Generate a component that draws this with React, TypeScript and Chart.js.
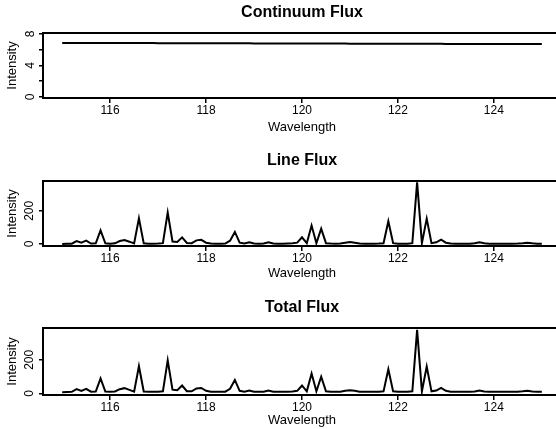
import React, { useEffect, useRef } from 'react';
import { Chart, registerables } from 'chart.js';

Chart.register(...registerables);

// ---- data ----
const wavelengths = [
  115.0, 115.1, 115.2, 115.3, 115.4, 115.5, 115.6, 115.7, 115.8, 115.9,
  116.0, 116.1, 116.2, 116.3, 116.4, 116.5, 116.6, 116.7, 116.8, 116.9,
  117.0, 117.1, 117.2, 117.3, 117.4, 117.5, 117.6, 117.7, 117.8, 117.9,
  118.0, 118.1, 118.2, 118.3, 118.4, 118.5, 118.6, 118.7, 118.8, 118.9,
  119.0, 119.1, 119.2, 119.3, 119.4, 119.5, 119.6, 119.7, 119.8, 119.9,
  120.0, 120.1, 120.2, 120.3, 120.4, 120.5, 120.6, 120.7, 120.8, 120.9,
  121.0, 121.1, 121.2, 121.3, 121.4, 121.5, 121.6, 121.7, 121.8, 121.9,
  122.0, 122.1, 122.2, 122.3, 122.4, 122.5, 122.6, 122.7, 122.8, 122.9,
  123.0, 123.1, 123.2, 123.3, 123.4, 123.5, 123.6, 123.7, 123.8, 123.9,
  124.0, 124.1, 124.2, 124.3, 124.4, 124.5, 124.6, 124.7, 124.8, 124.9,
  125.0,
];

const continuumFlux = [
  6.85, 6.85, 6.85, 6.85, 6.85, 6.85, 6.85, 6.85, 6.85, 6.85,
  6.85, 6.85, 6.85, 6.85, 6.85, 6.85, 6.85, 6.85, 6.85, 6.85,
  6.82, 6.82, 6.82, 6.82, 6.82, 6.82, 6.82, 6.82, 6.82, 6.82,
  6.82, 6.82, 6.82, 6.82, 6.82, 6.82, 6.82, 6.82, 6.82, 6.82,
  6.79, 6.79, 6.79, 6.79, 6.79, 6.79, 6.79, 6.79, 6.79, 6.79,
  6.79, 6.79, 6.79, 6.79, 6.79, 6.79, 6.79, 6.79, 6.79, 6.79,
  6.76, 6.76, 6.76, 6.76, 6.76, 6.76, 6.76, 6.76, 6.76, 6.76,
  6.76, 6.76, 6.76, 6.76, 6.76, 6.76, 6.76, 6.76, 6.76, 6.76,
  6.73, 6.73, 6.73, 6.73, 6.73, 6.73, 6.73, 6.73, 6.73, 6.73,
  6.73, 6.73, 6.73, 6.73, 6.73, 6.73, 6.73, 6.73, 6.73, 6.73,
  6.73,
];

const lineFlux = [
  0, 1, 2, 18, 8, 20, 3, 4, 82, 4,
  2, 4, 18, 24, 14, 3, 155, 4, 2, 2,
  3, 5, 190, 15, 12, 40, 6, 5, 22, 25,
  8, 3, 2, 2, 3, 20, 73, 8, 3, 10,
  3, 2, 3, 10, 3, 2, 2, 3, 4, 8,
  40, 5, 111, 5, 93, 5, 3, 2, 3, 8,
  12, 8, 3, 2, 2, 2, 3, 5, 137, 5,
  2, 2, 2, 5, 372, 5, 153, 5, 10, 26,
  8, 3, 2, 2, 2, 2, 4, 10, 4, 2,
  2, 2, 2, 2, 2, 3, 5, 8, 4, 2,
  2,
];

// total flux = line flux + continuum flux
const totalFlux = lineFlux.map((v, i) => v + continuumFlux[i]);

const xTicks = [116, 118, 120, 122, 124];
const continuumYTicks = [0, 2, 4, 6, 8];
const continuumYLabels = ['0', '', '4', '', '8'];
const fluxYTicks = [0, 100, 200, 300];
const fluxYLabels = ['0', '', '200', ''];

const FONT = "'Liberation Sans', Arial, Helvetica, sans-serif";

type PanelSpec = {
  title: string;
  values: number[];
  top: number;
  height: number;
  axisHeight: number;
  yMin: number;
  yMax: number;
  yTicks: number[];
  yLabels: string[];
  yTickPad: number;
  xTitlePad: number;
};

const panels: PanelSpec[] = [
  {
    title: 'Continuum Flux', values: continuumFlux, top: 0, height: 143, axisHeight: 45,
    yMin: -0.13, yMax: 8.13, yTicks: continuumYTicks, yLabels: continuumYLabels, yTickPad: 4.7, xTitlePad: 8.2,
  },
  {
    title: 'Line Flux', values: lineFlux, top: 148, height: 143, axisHeight: 45,
    yMin: -12, yMax: 380, yTicks: fluxYTicks, yLabels: fluxYLabels, yTickPad: -1, xTitlePad: 10.2,
  },
  {
    title: 'Total Flux', values: totalFlux, top: 295, height: 143, axisHeight: 43,
    yMin: -10, yMax: 390, yTicks: fluxYTicks, yLabels: fluxYLabels, yTickPad: -1, xTitlePad: 10.2,
  },
];

const boxPlugin = {
  id: 'rBox',
  afterDatasetsDraw(chart: any) {
    const { ctx, chartArea: a } = chart;
    ctx.save();
    ctx.strokeStyle = '#000';
    ctx.lineWidth = 2;
    ctx.strokeRect(a.left, a.top, a.right - a.left, a.bottom - a.top);
    ctx.restore();
  },
};

const CANVAS_W = 570;

function Panel({ spec }: { spec: PanelSpec }) {
  const ref = useRef<HTMLCanvasElement | null>(null);
  useEffect(() => {
    if (!ref.current) return;
    const chart = new Chart(ref.current, {
      type: 'line',
      data: {
        datasets: [
          {
            data: wavelengths.map((x, i) => ({ x, y: spec.values[i] })),
            borderColor: '#000',
            borderWidth: 2,
            pointRadius: 0,
            tension: 0,
            fill: false,
          },
        ],
      },
      options: {
        animation: false,
        responsive: false,
        maintainAspectRatio: false,
        layout: { padding: { left: 0, right: 9, top: 0, bottom: 0 } },
        plugins: {
          legend: { display: false },
          tooltip: { enabled: false },
          title: {
            display: true,
            text: spec.title,
            fullSize: false,
            color: '#000',
            font: { family: FONT, size: 16, weight: 'bold' },
            padding: { top: 3.4, bottom: 10.4 },
          },
        },
        scales: {
          x: {
            type: 'linear',
            min: 114.6,
            max: 125.4,
            afterBuildTicks: (s: any) => {
              s.ticks = xTicks.map((v) => ({ value: v }));
            },
            afterFit: (s: any) => {
              s.height = spec.axisHeight;
            },
            border: { display: false },
            grid: {
              drawOnChartArea: false,
              drawTicks: true,
              tickLength: 5,
              color: '#000',
              lineWidth: 1.5,
            },
            ticks: {
              color: '#000',
              font: { family: FONT, size: 12 },
              padding: 0,
              maxRotation: 0,
              minRotation: 0,
              callback: (v: any) => String(v),
            },
            title: {
              display: true,
              text: 'Wavelength',
              color: '#000',
              font: { family: FONT, size: 13 },
              padding: { top: 0, bottom: spec.xTitlePad },
            },
          },
          y: {
            type: 'linear',
            min: spec.yMin,
            max: spec.yMax,
            afterBuildTicks: (s: any) => {
              s.ticks = spec.yTicks.map((v) => ({ value: v }));
            },
            afterFit: (s: any) => {
              s.width = 43;
            },
            border: { display: false },
            grid: {
              drawOnChartArea: false,
              drawTicks: true,
              tickLength: 4,
              color: '#000',
              lineWidth: 1.5,
            },
            ticks: {
              color: '#000',
              font: { family: FONT, size: 12 },
              padding: spec.yTickPad,
              minRotation: 90,
              maxRotation: 90,
              crossAlign: 'center',
              callback: (_v: any, i: number) => spec.yLabels[i],
            },
            title: {
              display: true,
              text: 'Intensity',
              color: '#000',
              font: { family: FONT, size: 13 },
              padding: { top: 5, bottom: 0 },
            },
          },
        },
      } as any,
      plugins: [boxPlugin],
    });
    return () => chart.destroy();
  }, [spec]);
  return (
    <canvas
      ref={ref}
      width={CANVAS_W}
      height={spec.height}
      style={{ position: 'absolute', left: 0, top: spec.top, width: CANVAS_W, height: spec.height }}
    />
  );
}

export default function App() {
  return (
    <div
      style={{
        position: 'fixed',
        left: 0,
        top: 0,
        width: 556,
        height: 429,
        overflow: 'hidden',
        background: '#fff',
      }}
    >
      {panels.map((p) => (
        <Panel key={p.title} spec={p} />
      ))}
    </div>
  );
}
